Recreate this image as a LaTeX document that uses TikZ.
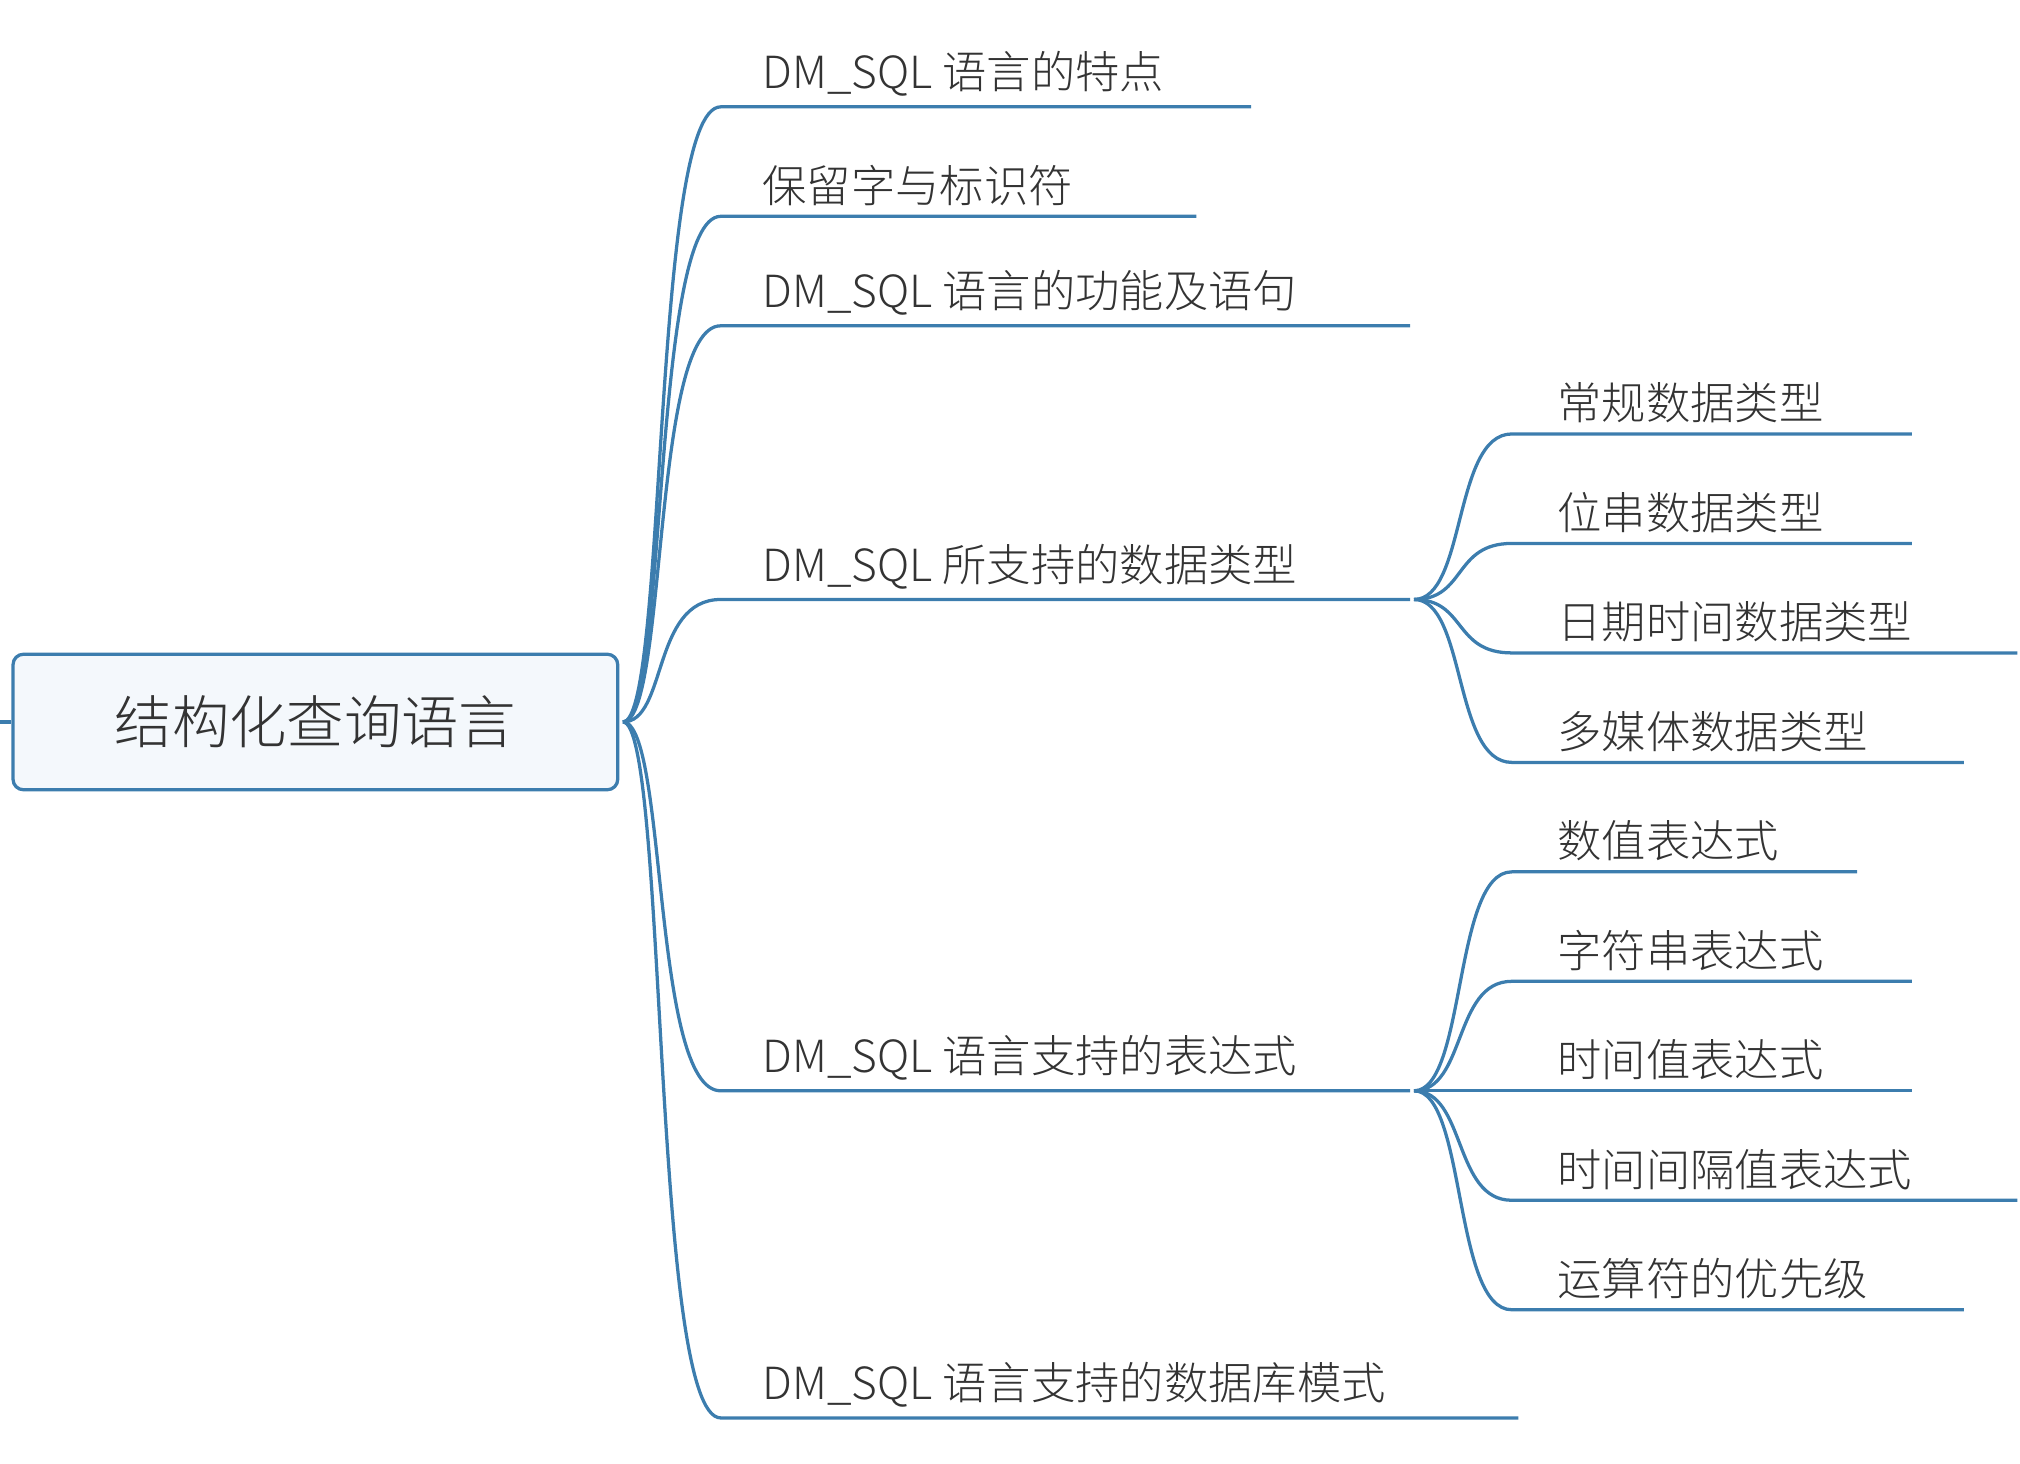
\documentclass[tikz,border=0pt]{standalone}
\usepackage{fontspec}
\setmainfont{Noto Sans CJK SC Light}
\newfontfamily\cjk{Noto Sans CJK SC Light}
\begin{document}
\begin{tikzpicture}[x=1pt,y=-1pt,
  conn/.style={draw=linkc,line width=2.5pt},
  lbl/.style={anchor=south west,inner sep=0pt,text=txtc,font=\cjk\fontsize{34}{40}\selectfont},
  rootbox/.style={draw=linkc,line width=2.5pt,fill=rootfill,rounded corners=8pt,minimum width=464pt,minimum height=104pt,text=txtc,font=\cjk\fontsize{44}{50}\selectfont}]
\definecolor{linkc}{HTML}{3C7DAE}
\definecolor{rootfill}{HTML}{F4F8FC}
\definecolor{txtc}{HTML}{333333}
\useasboundingbox (0,0) rectangle (1550,1123);
\node[rootbox] (root) at (242,554) {结构化查询语言};
\coordinate (stub) at (0,554);
\draw[conn] (stub) -- (root.west);
\coordinate (r) at (478,554);
% level 1
\foreach \n/\y/\xe/\t in {a/82/960/{DM\_SQL 语言的特点},b/166/918/{保留字与标识符},c/250/1082/{DM\_SQL 语言的功能及语句},d/460/1082/{DM\_SQL 所支持的数据类型},e/837/1082/{DM\_SQL 语言支持的表达式},f/1088/1165/{DM\_SQL 语言支持的数据库模式}}{
  \coordinate (\n s) at (553,\y);
  \coordinate (\n e) at (\xe,\y);
  \node[lbl] (\n t) at (585,\y-8) {\t};
  \draw[conn] (r) .. controls (512,554) and (500,\y) .. (\n s) -- (\n e);
}
\coordinate (dp) at (1085,460);
\coordinate (ep) at (1085,837);
\foreach \n/\y/\xe/\t in {d1/333/1467/常规数据类型,d2/417/1467/位串数据类型,d3/501/1548/日期时间数据类型,d4/585/1507/多媒体数据类型}{
  \coordinate (\n s) at (1160,\y);
  \coordinate (\n e) at (\xe,\y);
  \node[lbl] (\n t) at (1195,\y-8) {\t};
  \draw[conn] (dp) .. controls (1125,460) and (1115,\y) .. (\n s) -- (\n e);
}
\foreach \n/\y/\xe/\t in {e1/669/1425/数值表达式,e2/753/1467/字符串表达式,e3/837/1467/时间值表达式,e4/921/1548/时间间隔值表达式,e5/1005/1507/运算符的优先级}{
  \coordinate (\n s) at (1160,\y);
  \coordinate (\n e) at (\xe,\y);
  \node[lbl] (\n t) at (1195,\y-8) {\t};
  \draw[conn] (ep) .. controls (1125,837) and (1115,\y) .. (\n s) -- (\n e);
}
\end{tikzpicture}
\end{document}
